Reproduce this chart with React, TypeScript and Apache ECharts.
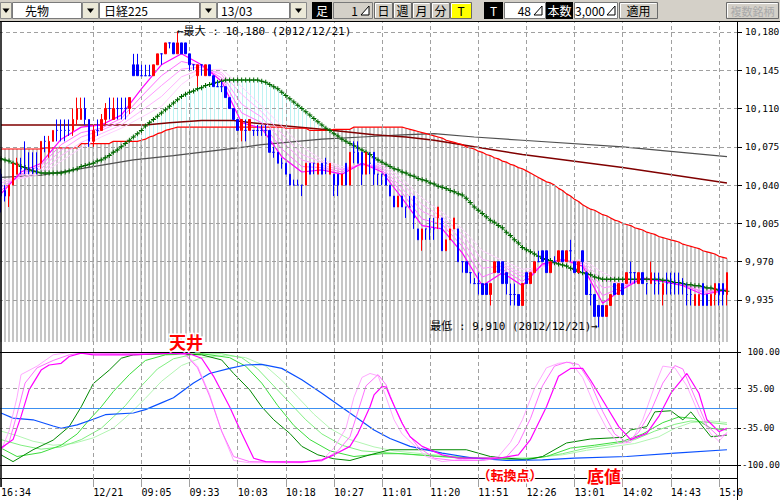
import React, { useEffect, useRef } from "react";
import * as echarts from "echarts";

// ---------------- data ----------------
const timeLabels = ["16:34", "12/21", "09:05", "09:33", "10:03", "10:18", "10:27", "11:01", "11:20", "11:51", "12:26", "13:01", "14:02", "14:43", "15:0"];
const timeLabelIndex = [0, 23, 35, 47, 59, 71, 83, 95, 107, 119, 131, 143, 155, 167, 179];
const gridLineIndex = [23, 35, 47, 59, 71, 83, 95, 107, 119, 131, 143, 155, 167, 179];
const CATEGORY_COUNT = 184;

const priceTicks = [9935, 9970, 10005, 10040, 10075, 10110, 10145, 10180];
const oscTicks = [-100, -35, 35, 100];

// [open, close, low, high]
const candles: number[][] = [
  [10050, 10030, 10015, 10055], [10035, 10030, 10025, 10040], [10030, 10040, 10020, 10040], [10040, 10060, 10040, 10060],
  [10050, 10060, 10050, 10065], [10055, 10055, 10050, 10065], [10055, 10055, 10050, 10080], [10055, 10055, 10050, 10070],
  [10055, 10055, 10050, 10070], [10055, 10055, 10050, 10070], [10060, 10080, 10055, 10080], [10080, 10080, 10070, 10085],
  [10070, 10080, 10065, 10085], [10080, 10090, 10080, 10090], [10090, 10090, 10080, 10100], [10090, 10090, 10080, 10100],
  [10090, 10090, 10080, 10100], [10090, 10090, 10085, 10100], [10090, 10100, 10085, 10110], [10100, 10110, 10095, 10120],
  [10100, 10110, 10100, 10120], [10110, 10100, 10095, 10120], [10100, 10080, 10075, 10100], [10080, 10090, 10075, 10095],
  [10090, 10090, 10085, 10100], [10090, 10100, 10090, 10105], [10100, 10110, 10095, 10115], [10110, 10110, 10100, 10120],
  [10100, 10110, 10100, 10120], [10110, 10110, 10100, 10120], [10110, 10110, 10100, 10120], [10110, 10110, 10100, 10120],
  [10110, 10120, 10105, 10120], [10150, 10140, 10140, 10160], [10150, 10140, 10140, 10160], [10140, 10140, 10140, 10150],
  [10140, 10140, 10140, 10150], [10140, 10140, 10140, 10150], [10140, 10150, 10140, 10150], [10150, 10160, 10150, 10160],
  [10160, 10160, 10150, 10160], [10160, 10170, 10160, 10170], [10170, 10170, 10165, 10170], [10170, 10160, 10160, 10170],
  [10160, 10170, 10160, 10180], [10170, 10160, 10160, 10170], [10170, 10160, 10160, 10170], [10160, 10150, 10145, 10160],
  [10150, 10150, 10145, 10150], [10140, 10150, 10130, 10150], [10150, 10150, 10140, 10150], [10140, 10150, 10140, 10150],
  [10150, 10140, 10140, 10150], [10140, 10130, 10130, 10140], [10130, 10130, 10130, 10135], [10130, 10130, 10125, 10135],
  [10130, 10120, 10120, 10130], [10120, 10110, 10110, 10120], [10110, 10100, 10100, 10110], [10100, 10090, 10090, 10100],
  [10090, 10100, 10080, 10100], [10090, 10090, 10080, 10100], [10090, 10100, 10090, 10100], [10090, 10090, 10085, 10090],
  [10090, 10090, 10085, 10095], [10090, 10090, 10085, 10095], [10090, 10090, 10085, 10095], [10090, 10070, 10070, 10090],
  [10070, 10070, 10065, 10075], [10070, 10060, 10060, 10070], [10060, 10060, 10055, 10065], [10060, 10050, 10050, 10060],
  [10050, 10040, 10040, 10050], [10040, 10040, 10040, 10045], [10040, 10040, 10040, 10045], [10040, 10040, 10030, 10040],
  [10040, 10060, 10040, 10060], [10060, 10050, 10050, 10060], [10060, 10060, 10050, 10060], [10050, 10060, 10050, 10060],
  [10060, 10050, 10050, 10060], [10060, 10060, 10050, 10065], [10050, 10060, 10050, 10060], [10050, 10040, 10030, 10050],
  [10050, 10040, 10030, 10050], [10040, 10050, 10040, 10050], [10060, 10040, 10040, 10060], [10040, 10070, 10040, 10070],
  [10070, 10070, 10060, 10080], [10070, 10060, 10060, 10080], [10070, 10050, 10040, 10070], [10050, 10070, 10050, 10070],
  [10060, 10060, 10050, 10070], [10070, 10050, 10040, 10070], [10050, 10050, 10040, 10050], [10050, 10050, 10040, 10050],
  [10050, 10040, 10040, 10050], [10040, 10030, 10030, 10040], [10030, 10020, 10020, 10030], [10020, 10030, 10020, 10030],
  [10030, 10020, 10020, 10030], [10020, 10020, 10010, 10020], [10020, 10020, 10020, 10030], [10030, 10010, 10000, 10030],
  [10000, 9990, 9990, 10000], [9990, 10000, 9980, 10000], [10000, 10000, 9990, 10000], [10000, 10000, 9990, 10010],
  [10000, 10000, 9990, 10010], [10010, 10020, 10000, 10020], [10010, 9980, 9980, 10010], [9980, 9990, 9980, 9990],
  [9990, 10000, 9990, 10000], [10000, 10010, 10000, 10010], [10000, 9970, 9970, 10000], [9970, 9970, 9960, 9970],
  [9970, 9960, 9960, 9970], [9960, 9960, 9950, 9960], [9950, 9950, 9950, 9955], [9950, 9950, 9940, 9960],
  [9950, 9940, 9940, 9950], [9950, 9940, 9940, 9950], [9940, 9950, 9930, 9950], [9960, 9970, 9960, 9970],
  [9970, 9960, 9960, 9970], [9970, 9950, 9950, 9970], [9960, 9950, 9940, 9960], [9940, 9940, 9930, 9950],
  [9940, 9940, 9930, 9950], [9940, 9930, 9930, 9940], [9930, 9950, 9930, 9950], [9960, 9950, 9950, 9960],
  [9950, 9960, 9950, 9960], [9960, 9970, 9960, 9970], [9970, 9970, 9970, 9980], [9980, 9970, 9970, 9980],
  [9980, 9960, 9960, 9980], [9960, 9970, 9960, 9970], [9970, 9970, 9970, 9975], [9970, 9980, 9970, 9980],
  [9980, 9970, 9970, 9980], [9970, 9980, 9970, 9980], [9980, 9980, 9970, 9990], [9970, 9960, 9960, 9970],
  [9960, 9970, 9960, 9970], [9980, 9970, 9960, 9980], [9960, 9940, 9940, 9960], [9940, 9940, 9930, 9950],
  [9940, 9920, 9920, 9940], [9930, 9920, 9910, 9930], [9930, 9920, 9920, 9930], [9920, 9930, 9920, 9930],
  [9930, 9940, 9930, 9940], [9950, 9940, 9940, 9950], [9940, 9950, 9940, 9950], [9950, 9940, 9940, 9950],
  [9950, 9960, 9950, 9960], [9960, 9960, 9950, 9970], [9960, 9960, 9950, 9960], [9950, 9960, 9950, 9960],
  [9960, 9950, 9950, 9960], [9950, 9950, 9940, 9950], [9950, 9960, 9950, 9970], [9950, 9950, 9940, 9960],
  [9950, 9950, 9940, 9960], [9940, 9950, 9930, 9950], [9950, 9950, 9940, 9960], [9950, 9950, 9940, 9960],
  [9950, 9950, 9940, 9960], [9950, 9950, 9940, 9960], [9950, 9950, 9940, 9955], [9940, 9940, 9930, 9950],
  [9940, 9940, 9930, 9945], [9930, 9940, 9930, 9940], [9930, 9940, 9930, 9940], [9950, 9930, 9930, 9950],
  [9940, 9930, 9930, 9940], [9930, 9940, 9930, 9940], [9940, 9950, 9930, 9950], [9950, 9940, 9930, 9950],
  [9950, 9940, 9930, 9950], [9940, 9960, 9930, 9960],
];

// red moving average (one value per candle)
const ma75 = [
  10073, 10073, 10073, 10073, 10073, 10073, 10073, 10073, 10073, 10073,
  10073, 10074, 10074, 10074, 10074, 10074, 10074, 10074, 10074, 10074,
  10078, 10078, 10078, 10078, 10078, 10078, 10078, 10078, 10080, 10080,
  10080, 10080, 10080, 10080, 10080, 10081, 10082, 10084, 10085, 10087,
  10088, 10090, 10091, 10092, 10093, 10093, 10093, 10093, 10093, 10093,
  10093, 10093, 10093, 10093, 10093, 10093, 10093, 10093, 10093, 10093,
  10093, 10093, 10093, 10093, 10093, 10093, 10093, 10093, 10093, 10093,
  10093, 10092, 10092, 10092, 10092, 10092, 10092, 10090, 10090, 10090,
  10090, 10090, 10090, 10091, 10091, 10091, 10091, 10091, 10093, 10093,
  10093, 10093, 10093, 10093, 10093, 10093, 10093, 10093, 10093, 10093,
  10093, 10092, 10091, 10090, 10089, 10088, 10087, 10086, 10085, 10084,
  10083, 10081, 10080, 10079, 10078, 10077, 10075, 10074, 10073, 10071,
  10070, 10068, 10067, 10065, 10064, 10062, 10061, 10059, 10058, 10056,
  10055, 10053, 10051, 10049, 10047, 10045, 10043, 10042, 10040, 10037,
  10035, 10032, 10030, 10027, 10025, 10022, 10020, 10018, 10017, 10015,
  10013, 10012, 10010, 10008, 10007, 10005, 10004, 10003, 10001, 10000,
  9999, 9997, 9996, 9995, 9993, 9992, 9991, 9990, 9989, 9988,
  9986, 9985, 9984, 9983, 9982, 9980, 9979, 9978, 9977, 9975,
  9974, 9973,
];

// green moving average with + markers (one value per candle)
const ma25 = [
  10064, 10063, 10062, 10060, 10059, 10057, 10056, 10054, 10053, 10052,
  10051, 10051, 10051, 10051, 10051, 10051, 10052, 10053, 10054, 10055,
  10057, 10058, 10059, 10060, 10062, 10063, 10065, 10067, 10070, 10072,
  10075, 10078, 10081, 10084, 10087, 10090, 10094, 10097, 10100, 10103,
  10106, 10109, 10112, 10115, 10118, 10121, 10123, 10125, 10126, 10128,
  10129, 10131, 10132, 10133, 10134, 10135, 10136, 10136, 10136, 10136,
  10136, 10136, 10136, 10136, 10136, 10135, 10134, 10132, 10130, 10128,
  10125, 10122, 10119, 10116, 10113, 10110, 10107, 10104, 10101, 10098,
  10095, 10092, 10090, 10087, 10085, 10082, 10080, 10078, 10076, 10074,
  10072, 10070, 10068, 10065, 10063, 10061, 10059, 10057, 10055, 10054,
  10052, 10051, 10049, 10048, 10046, 10045, 10044, 10042, 10041, 10039,
  10038, 10037, 10035, 10034, 10032, 10031, 10028, 10024, 10020, 10017,
  10014, 10011, 10008, 10006, 10003, 10001, 9997, 9994, 9990, 9987,
  9983, 9981, 9979, 9977, 9975, 9973, 9972, 9971, 9969, 9968,
  9967, 9966, 9964, 9963, 9961, 9960, 9959, 9958, 9956, 9955,
  9954, 9954, 9954, 9954, 9954, 9954, 9954, 9954, 9954, 9954,
  9954, 9954, 9954, 9954, 9954, 9953, 9953, 9952, 9951, 9951,
  9950, 9949, 9949, 9948, 9948, 9947, 9946, 9946, 9945, 9944,
  9944, 9943,
];

// slow lines: [candle index, price]
const maroonLine = [[0, 10095], [36, 10095], [42, 10097], [50, 10099], [58, 10099], [65, 10096], [80, 10091], [93, 10086], [101, 10084], [108, 10081], [118, 10075], [130, 10068], [155, 10056], [181, 10042]];
const grayLine = [[0, 10047], [10, 10049], [20, 10055], [33, 10063], [43, 10067], [61, 10075], [65, 10077], [80, 10082], [90, 10084], [100, 10086], [108, 10087], [118, 10084], [130, 10081], [155, 10075], [181, 10066]];

// pink ribbon (sampled at these candle indexes)
const ribbonIndex = [0, 5, 10, 15, 20, 25, 30, 35, 40, 45, 50, 55, 60, 65, 70, 75, 80, 85, 90, 95, 100, 105, 110, 115, 120, 125, 130, 135, 140, 145, 150, 155, 160, 165, 170, 175, 181];
const ribbon1 = [10032, 10052, 10060, 10082, 10093, 10095, 10104, 10128, 10150, 10160, 10150, 10135, 10097, 10092, 10066, 10052, 10054, 10050, 10060, 10052, 10028, 10003, 10000, 9978, 9948, 9960, 9948, 9968, 9972, 9966, 9932, 9945, 9955, 9952, 9948, 9940, 9944];
const ribbon2 = [10035, 10050, 10058, 10077, 10088, 10092, 10101, 10121, 10140, 10153, 10149, 10138, 10106, 10097, 10073, 10057, 10056, 10052, 10060, 10054, 10033, 10009, 10004, 9984, 9956, 9963, 9952, 9967, 9972, 9968, 9939, 9947, 9955, 9952, 9949, 9942, 9944];
const ribbon3 = [10038, 10049, 10055, 10072, 10084, 10090, 10098, 10115, 10131, 10146, 10148, 10141, 10114, 10102, 10080, 10063, 10058, 10054, 10059, 10056, 10037, 10016, 10008, 9989, 9964, 9966, 9956, 9967, 9971, 9969, 9946, 9949, 9954, 9952, 9949, 9943, 9945];
const ribbon4 = [10042, 10047, 10052, 10067, 10079, 10087, 10095, 10108, 10121, 10139, 10146, 10143, 10123, 10107, 10087, 10068, 10061, 10055, 10058, 10058, 10042, 10022, 10011, 9995, 9972, 9968, 9959, 9966, 9970, 9971, 9953, 9950, 9954, 9952, 9950, 9945, 9945];
const ribbon5 = [10045, 10046, 10050, 10062, 10074, 10084, 10092, 10102, 10112, 10132, 10145, 10146, 10130, 10112, 10094, 10075, 10063, 10057, 10058, 10060, 10046, 10028, 10015, 10000, 9980, 9971, 9963, 9965, 9970, 9972, 9960, 9952, 9953, 9952, 9950, 9946, 9945];

// lower panel oscillators: [candle index, value]
const oscMagenta = [[0, -70], [3, -55], [5, -14], [7, 33], [10, 68], [12, 77], [15, 80], [17, 92], [20, 98], [23, 95], [33, 95], [42, 98], [47, 97], [50, 89], [53, 57], [57, 3], [60, -44], [63, -88], [66, -94], [75, -95], [80, -91], [83, -82], [87, -67], [89, -44], [92, 3], [93, 24], [95, 39], [96, 38], [97, 21], [100, -26], [102, -50], [105, -67], [110, -82], [114, -88], [119, -88], [124, -88], [129, -82], [132, -55], [136, 3], [139, 57], [142, 71], [145, 71], [147, 50], [151, 3], [154, -32], [157, -55], [161, -44], [164, -14], [167, 27], [171, 62], [174, 27], [176, -20], [179, -41], [181, -35]];
const oscPink2 = [[0, -72], [2, -60], [4, -10], [6, 45], [9, 72], [13, 85], [17, 95], [20, 98], [30, 97], [42, 99], [46, 95], [49, 72], [52, 22], [55, -40], [58, -85], [62, -94], [70, -95], [80, -93], [84, -75], [87, -50], [89, -5], [91, 40], [94, 60], [96, 42], [98, 5], [101, -40], [104, -68], [108, -88], [113, -92], [120, -92], [126, -86], [129, -62], [132, -18], [135, 40], [138, 75], [141, 82], [144, 78], [147, 45], [150, -5], [153, -45], [156, -60], [159, -42], [162, -5], [165, 45], [168, 76], [170, 70], [173, 20], [176, -30], [179, -50], [181, -45]];
const oscPink3 = [[0, -75], [2, -40], [4, 20], [5, 60], [9, 75], [13, 95], [17, 99], [30, 96], [40, 98], [46, 96], [49, 75], [52, 25], [55, -40], [58, -92], [62, -96], [75, -96], [80, -92], [83, -70], [86, -35], [88, 20], [90, 55], [92, 62], [94, 58], [96, 20], [98, -20], [100, -45], [103, -65], [106, -85], [110, -94], [115, -90], [120, -92], [124, -85], [127, -60], [130, -20], [133, 35], [136, 72], [139, 80], [142, 82], [145, 55], [148, 5], [151, -35], [154, -62], [157, -60], [160, -20], [163, 40], [165, 75], [168, 72], [171, 40], [174, -10], [177, -45], [179, -58], [181, -42]];
const oscGreen1 = [[0, -82], [3, -94], [8, -73], [13, -56], [17, -32], [20, 3], [23, 44], [27, 68], [30, 89], [33, 95], [42, 97], [50, 95], [55, 86], [58, 62], [62, 33], [65, 3], [68, -20], [72, -44], [75, -67], [79, -82], [83, -89], [87, -92], [92, -82], [97, -73], [105, -73], [116, -73], [122, -85], [131, -91], [135, -85], [141, -61], [147, -54], [155, -51], [157, -38], [161, -32], [163, -6], [167, -4], [170, -20], [172, -6], [177, -50], [181, -47]];
const oscGreen2 = [[0, -70], [4, -85], [10, -78], [15, -65], [19, -45], [22, -20], [25, 3], [28, 30], [32, 60], [36, 85], [41, 95], [50, 97], [57, 90], [61, 75], [65, 45], [69, 5], [73, -30], [77, -55], [82, -75], [88, -85], [95, -80], [100, -80], [110, -85], [120, -88], [130, -90], [136, -85], [142, -70], [148, -65], [155, -58], [160, -45], [165, -25], [169, -15], [173, -18], [177, -35], [181, -38]];
const oscGreen3 = [[0, -55], [5, -65], [10, -72], [15, -68], [20, -55], [25, -35], [28, -15], [31, 5], [35, 40], [39, 70], [43, 88], [48, 96], [55, 97], [60, 90], [64, 70], [68, 40], [72, 10], [76, -20], [80, -45], [85, -65], [90, -75], [96, -78], [105, -83], [115, -88], [125, -90], [133, -88], [140, -80], [146, -70], [152, -64], [158, -55], [163, -40], [168, -28], [172, -22], [177, -25], [181, -28]];
const oscGreen4 = [[0, -40], [4, -48], [8, -58], [13, -65], [18, -62], [23, -52], [28, -35], [32, -10], [36, 18], [40, 48], [45, 76], [50, 90], [56, 94], [61, 90], [66, 75], [70, 50], [74, 20], [78, -10], [82, -35], [87, -55], [93, -68], [98, -75], [105, -80], [115, -86], [125, -88], [133, -87], [140, -82], [146, -74], [152, -68], [158, -62], [164, -50], [168, -35], [172, -25], [177, -22], [181, -25]];
const oscBlue = [[0, -8], [3, -17], [8, -20], [13, -31], [15, -35], [19, -29], [23, -19], [26, -11], [33, -8], [36, -2], [40, 10], [43, 19], [48, 45], [52, 62], [57, 71], [61, 77], [65, 78], [70, 71], [75, 51], [80, 27], [83, 12], [87, -8], [90, -23], [93, -38], [97, -53], [102, -67], [110, -79], [118, -88], [126, -92], [135, -91], [143, -88], [156, -85], [168, -79], [181, -73]];

// ---------------- styling ----------------
const PRICE_MIN = 9896.6;
const PRICE_MAX = 10189.1;
const RED = "#ff0000";
const BLUE = "#0000ff";
const FONT_MONO = '"DejaVu Sans Mono", "Liberation Mono", monospace';
const FONT_JP = '"Noto Sans CJK JP", "Noto Sans", sans-serif';
const GRID_GRAY = "#a0a0a0";

function txt(x: number, y: number, text: string, font: string, fill: string, align = "left", extra: any = {}) {
  return {
    type: "text", x, y, z: 101, silent: true,
    style: { text, font, fill, align, verticalAlign: "middle", textAlign: align, textVerticalAlign: "middle", ...extra },
  };
}
function rect(x: number, y: number, w: number, h: number, fill: string, stroke?: string) {
  return { type: "rect", z: 100, silent: true, shape: { x, y, width: w, height: h }, style: { fill, stroke: stroke || null, lineWidth: 1 } };
}
function hline(x1: number, y1: number, x2: number, y2: number, stroke: string, w = 1) {
  return { type: "line", z: 100, silent: true, shape: { x1, y1, x2, y2 }, style: { stroke, lineWidth: w } };
}

function buildToolbar() {
  const els: any[] = [];
  const UI = `12px ${FONT_JP}`;
  els.push(rect(0, 0, 780, 21, "#d4d0c8"));
  const drop = (x: number, w: number) => {
    els.push(rect(x + 0.5, 2.5, w - 1, 16, "#ece9d8", "#8a8a8a"));
    const cx = x + w / 2;
    els.push({ type: "polygon", z: 101, silent: true, shape: { points: [[cx - 3.5, 8.5], [cx + 3.5, 8.5], [cx, 13]] }, style: { fill: "#000" } });
  };
  const field = (x: number, w: number, fill: string) => els.push(rect(x + 0.5, 2.5, w - 1, 16, fill, "#7a7a7a"));
  const spinner = (x: number) => els.push({ type: "polygon", z: 101, silent: true, shape: { points: [[x, 15], [x + 8, 15], [x + 8, 6]] }, style: { fill: "#fff", stroke: "#000", lineWidth: 1 } });
  const black = (x: number, w: number, t: string) => {
    els.push(rect(x, 2, w, 17, "#000"));
    els.push(txt(x + w / 2, 10.5, t, UI, "#fff", "center"));
  };
  const btn = (x: number, w: number, t: string, fill = "#d4d0c8", color = "#000", font = UI) => {
    els.push(rect(x + 0.5, 2.5, w - 1, 16, fill, "#6a6a6a"));
    els.push(hline(x + 1.5, 3.5, x + w - 1.5, 3.5, "#ffffff"));
    els.push(hline(x + 1.5, 3.5, x + 1.5, 17.5, "#ffffff"));
    els.push(txt(x + w / 2, 10.5, t, font, color, "center"));
  };

  drop(0, 12);
  field(12, 70, "#ffffff");
  els.push(txt(25, 10.5, "先物", UI, "#000"));
  drop(82, 17);
  field(99, 101, "#ffffff");
  els.push(txt(104, 10.5, "日経225", UI, "#000"));
  drop(200, 17);
  field(217, 73, "#ffffff");
  els.push(txt(221, 10.5, "13/03", UI, "#000"));
  drop(290, 17);
  black(312, 20, "足");
  field(333, 40, "#d4d0c8");
  els.push(txt(358, 10.5, "1", UI, "#000", "right"));
  spinner(361);
  btn(374, 19, "日");
  btn(393, 19, "週");
  btn(412, 19, "月");
  btn(431, 19, "分");
  btn(450, 22, "T", "#ffff00");
  black(484, 19, "T");
  field(504, 42, "#ffffff");
  els.push(txt(531, 10.5, "48", UI, "#000", "right"));
  spinner(534);
  black(546, 27, "本数");
  field(574, 44, "#ffffff");
  els.push(txt(605, 10.5, "3,000", UI, "#000", "right"));
  spinner(607);
  btn(619, 39, "適用");
  btn(726, 53, "複数銘柄", "#d4d0c8", "#a8a8a8", `11px ${FONT_JP}`);
  return els;
}

function buildOption() {
  const categories = Array.from({ length: CATEGORY_COUNT }, (_, i) => {
    const k = timeLabelIndex.indexOf(i);
    return k >= 0 ? timeLabels[k] : "";
  });
  const showLabel = (i: number) => timeLabelIndex.indexOf(i) >= 0;

  const candleData = candles.map(([o, c, l, h]) =>
    o === c
      ? { value: [o, c, l, h], itemStyle: { color: BLUE, color0: BLUE, borderColor: BLUE, borderColor0: BLUE } }
      : [o, c, l, h]
  );
  const hatchData = ma75.map((r, i) => [i, r, ma25[i]]);
  const ribbon = (vals: number[]) => ribbonIndex.map((i, k) => [i, vals[k]]);

  const line = (data: any, color: string, xi: number, yi: number, z: number, width = 1, extra: any = {}) => ({
    type: "line", data, xAxisIndex: xi, yAxisIndex: yi, z, symbol: "none", showSymbol: false, silent: true,
    animation: false, lineStyle: { color, width }, itemStyle: { color }, emphasis: { disabled: true }, ...extra,
  });

  const hiddenX = (gridIndex: number) => ({
    type: "category", gridIndex, data: categories, boundaryGap: true, show: false,
  });

  const yLabel = { show: true, fontFamily: FONT_MONO, fontSize: 9.5, color: "#000", margin: 8 };

  const series: any[] = [
    // vertical dashed grid lines spanning both panels
    line([[0, 0.5]], "transparent", 2, 2, 0, 0, {
      markLine: {
        silent: true, symbol: ["none", "none"], label: { show: false }, animation: false,
        lineStyle: { color: GRID_GRAY, type: [4, 3], width: 1 },
        data: gridLineIndex.map((i) => ({ xAxis: i })),
      },
    }),
    // hatching under the red average, cyan band up to the green average
    {
      type: "custom", xAxisIndex: 0, yAxisIndex: 0, z: 1, silent: true, data: hatchData,
      encode: { x: 0, y: 1 },
      renderItem: (_p: any, api: any) => {
        const i = api.value(0);
        const r = api.value(1);
        const g = api.value(2);
        const base = api.coord([i, PRICE_MIN]);
        const pr = api.coord([i, r]);
        const x = Math.round(base[0]);
        const children: any[] = [
          { type: "line", shape: { x1: x, y1: base[1], x2: x, y2: pr[1] }, style: { stroke: "#c6c6c6", lineWidth: 2 } },
        ];
        if (g > r) {
          const pg = api.coord([i, g]);
          children.push({ type: "line", shape: { x1: x + 0.5, y1: pr[1], x2: x + 0.5, y2: pg[1] }, style: { stroke: "#bdf2f2", lineWidth: 1 } });
        }
        return { type: "group", children };
      },
    },
    line(grayLine, "#505050", 0, 0, 2, 1.2),
    line(maroonLine, "#800000", 0, 0, 2, 1.5),
    line(ma75, RED, 0, 0, 3, 1.2, {
      markLine: {
        silent: true, symbol: ["none", "none"], label: { show: false }, animation: false,
        lineStyle: { color: GRID_GRAY, type: [4, 3], width: 1 },
        data: priceTicks.map((v) => ({ yAxis: v })),
      },
    }),
    line(ribbon(ribbon5), "#ffd0ff", 0, 0, 4),
    line(ribbon(ribbon4), "#ffb4ff", 0, 0, 4),
    line(ribbon(ribbon3), "#ff98ff", 0, 0, 4),
    line(ribbon(ribbon2), "#ff70ff", 0, 0, 4),
    line(ribbon(ribbon1), "#ff00ff", 0, 0, 4, 1.2),
    {
      type: "line", data: ma25, xAxisIndex: 0, yAxisIndex: 0, z: 5, silent: true,
      symbol: "path://M2,0H3V2H5V3H3V5H2V3H0V2H2Z", symbolSize: 5, showSymbol: true, showAllSymbol: true,
      lineStyle: { color: "#008000", width: 1 }, itemStyle: { color: "#006400" }, emphasis: { disabled: true },
    },
    {
      type: "candlestick", xAxisIndex: 0, yAxisIndex: 0, z: 6, silent: true, barWidth: 2,
      itemStyle: { color: RED, color0: BLUE, borderColor: RED, borderColor0: BLUE, borderWidth: 1 },
      emphasis: { disabled: true },
      data: candleData,
    },
    // lower panel
    line(oscGreen4, "#b2f5b2", 1, 1, 2),
    line(oscGreen3, "#80ee80", 1, 1, 2),
    line(oscGreen2, "#3cdc3c", 1, 1, 2),
    line(oscGreen1, "#008800", 1, 1, 2),
    line(oscBlue, "#0a50ff", 1, 1, 3, 1.2, {
      markLine: {
        silent: true, symbol: ["none", "none"], label: { show: false }, animation: false,
        data: [
          { yAxis: 100, lineStyle: { color: "#000", type: "solid", width: 1 } },
          { yAxis: -100, lineStyle: { color: "#000", type: "solid", width: 1 } },
          { yAxis: 35, lineStyle: { color: GRID_GRAY, type: [4, 3], width: 1 } },
          { yAxis: -35, lineStyle: { color: GRID_GRAY, type: [4, 3], width: 1 } },
          { yAxis: 0, lineStyle: { color: "#3c90f0", type: "solid", width: 1 } },
        ],
      },
    }),
    line(oscPink3, "#ffa8ff", 1, 1, 4),
    line(oscPink2, "#ff70ff", 1, 1, 4),
    line(oscMagenta, "#ff00ff", 1, 1, 4, 1.2),
  ];

  const graphicEls: any[] = [
    ...buildToolbar(),
    hline(0, 21.5, 780, 21.5, "#000"),
    hline(1, 22, 1, 487, "#000", 1.5),
    hline(737.5, 22, 737.5, 500, "#000"),
    txt(177, 31, "←最大 : 10,180 (2012/12/21)", `11px ${FONT_MONO}, ${FONT_JP}`, "#000", "left"),
    txt(598, 326, "最低 : 9,910 (2012/12/21)→", `11px ${FONT_MONO}, ${FONT_JP}`, "#000", "right"),
    txt(186, 341, "天井", `bold 17px ${FONT_JP}`, RED, "center", { stroke: "#ffffff", lineWidth: 3 }),
    txt(510, 474, "（転換点）", `bold 13px ${FONT_JP}`, RED, "center", { stroke: "#ffffff", lineWidth: 3 }),
    txt(604, 475, "底値", `bold 17px ${FONT_JP}`, RED, "center", { stroke: "#ffffff", lineWidth: 3 }),
  ];

  return {
    animation: false,
    backgroundColor: "#ffffff",
    grid: [
      { left: -1, top: 22, width: 738, height: 320, outerBoundsMode: "none", containLabel: false },
      { left: -1, top: 352, width: 738, height: 113, outerBoundsMode: "none", containLabel: false },
      { left: -1, top: 22, width: 738, height: 456, outerBoundsMode: "none", containLabel: false },
    ],
    xAxis: [
      hiddenX(0),
      hiddenX(1),
      {
        type: "category", gridIndex: 2, data: categories, boundaryGap: true,
        axisLine: { show: true, lineStyle: { color: "#000", width: 1 } },
        axisTick: { show: true, alignWithLabel: true, interval: (i: number) => showLabel(i), length: 9, lineStyle: { color: GRID_GRAY } },
        axisLabel: { show: true, interval: (i: number) => showLabel(i), align: "left", margin: 9, fontFamily: FONT_MONO, fontSize: 10, color: "#000", hideOverlap: false },
        splitLine: { show: false },
      },
    ],
    yAxis: [
      {
        type: "value", gridIndex: 0, position: "right", min: PRICE_MIN, max: PRICE_MAX, scale: true,
        axisLine: { show: false }, splitLine: { show: false },
        axisTick: { show: true, length: 5, customValues: priceTicks, lineStyle: { color: "#000" } },
        axisLabel: { ...yLabel, customValues: priceTicks, formatter: (v: number) => Math.round(v).toLocaleString("en-US") },
      },
      {
        type: "value", gridIndex: 1, position: "right", min: -100, max: 100,
        axisLine: { show: false }, splitLine: { show: false },
        axisTick: { show: true, length: 4, customValues: oscTicks, lineStyle: { color: "#000" } },
        axisLabel: {
          ...yLabel, fontSize: 9, margin: 5, customValues: oscTicks,
          formatter: (v: number) => (v >= 0 ? "\u00a0" : "") + v.toFixed(2),
        },
      },
      { type: "value", gridIndex: 2, min: 0, max: 1, show: false },
    ],
    series,
    graphic: { elements: graphicEls },
  };
}

export default function App() {
  const ref = useRef<HTMLDivElement>(null);
  useEffect(() => {
    if (!ref.current) return;
    const chart = echarts.init(ref.current, null, { renderer: "svg", width: 780, height: 500 });
    chart.setOption(buildOption() as any);
    return () => chart.dispose();
  }, []);
  return (
    <div
      ref={ref}
      style={{ position: "fixed", left: 0, top: 0, width: 780, height: 500, background: "#ffffff" }}
    />
  );
}
